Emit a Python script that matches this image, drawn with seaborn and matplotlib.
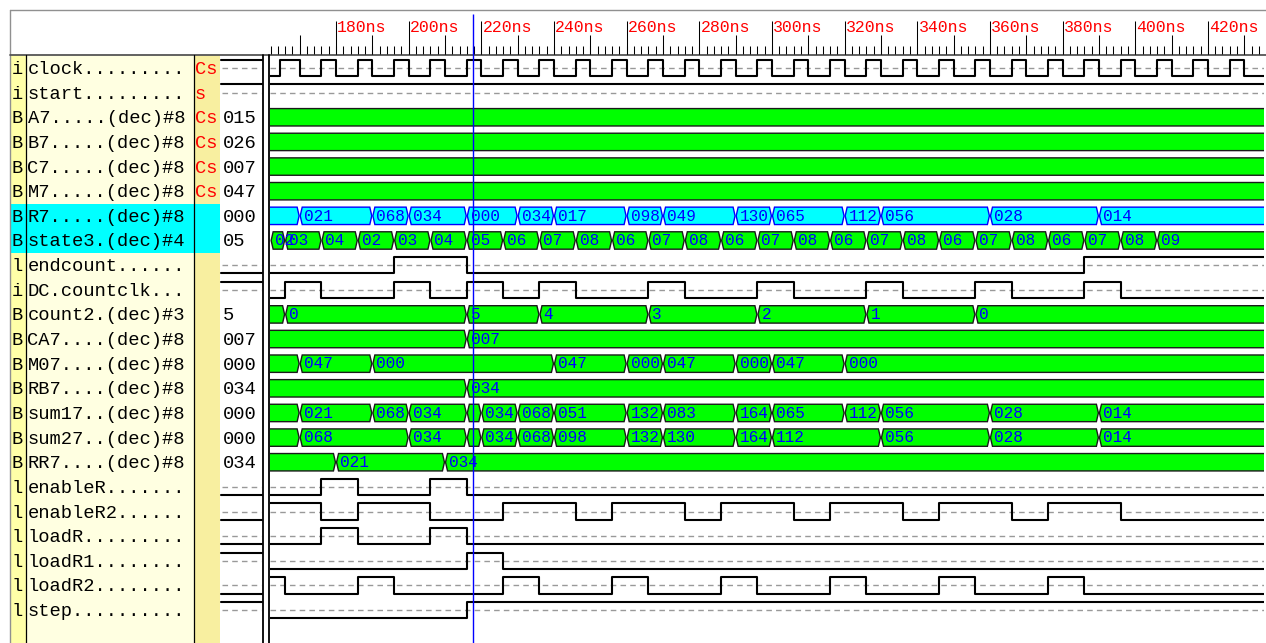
import numpy as np
import pandas as pd
import matplotlib
matplotlib.use("Agg")
import matplotlib.pyplot as plt
from matplotlib.patches import Polygon, Rectangle
import seaborn as sns

# ---------------- data ----------------
row_names = ["clock", "start", "A7", "B7", "C7", "M7", "R7", "state3", "endcount",
             "DC.countclk", "count2", "CA7", "M07", "RB7", "sum17", "sum27", "RR7",
             "enableR", "enableR2", "loadR", "loadR1", "loadR2", "step"]
row_types = ["i", "i", "B", "B", "B", "B", "B", "B", "l", "i", "B", "B", "B", "B",
             "B", "B", "B", "l", "l", "l", "l", "l", "l"]
row_suffix = ["", "", "(dec)#8", "(dec)#8", "(dec)#8", "(dec)#8", "(dec)#8", "(dec)#4",
              "", "", "(dec)#3", "(dec)#8", "(dec)#8", "(dec)#8", "(dec)#8", "(dec)#8",
              "(dec)#8", "", "", "", "", "", ""]
row_tags = ["Cs", "s", "Cs", "Cs", "Cs", "Cs", "", "", "", "", "", "", "", "", "", "",
            "", "", "", "", "", "", ""]
row_values = ["", "", "015", "026", "007", "047", "000", "05", "", "", "5", "007",
              "000", "034", "000", "000", "034", "", "", "", "", "", ""]
highlight_rows = ["R7", "state3"]

tick_times = [180, 200, 220, 240, 260, 280, 300, 320, 340, 360, 380, 400, 420]
tick_labels = ["180ns", "200ns", "220ns", "240ns", "260ns", "280ns", "300ns",
               "320ns", "340ns", "360ns", "380ns", "400ns", "420ns"]
cursor_time = 217.7

# digital signals: change times and levels
clock_t = [150, 164.5, 170, 176, 180, 186, 190, 196, 200, 206, 210, 216, 220, 226, 230,
           236, 240, 246, 250, 256, 260, 266, 270, 276, 280, 286, 290, 296, 300, 306,
           310, 316, 320, 326, 330, 336, 340, 346, 350, 356, 360, 366, 370, 376, 380,
           386, 390, 396, 400, 406, 410, 416, 420, 426, 430, 436]
clock_v = [0, 1, 0, 1, 0, 1, 0, 1, 0, 1, 0, 1, 0, 1, 0, 1, 0, 1, 0, 1, 0, 1, 0, 1, 0,
           1, 0, 1, 0, 1, 0, 1, 0, 1, 0, 1, 0, 1, 0, 1, 0, 1, 0, 1, 0, 1, 0, 1, 0, 1,
           0, 1, 0, 1, 0, 1]
start_t = [150]
start_v = [1]
endcount_t = [150, 196, 216, 386]
endcount_v = [0, 1, 0, 1]
countclk_t = [150, 166, 176, 196, 206, 216, 226, 236, 246, 266, 276, 296, 306, 326,
              336, 356, 366, 386, 396]
countclk_v = [0, 1, 0, 1, 0, 1, 0, 1, 0, 1, 0, 1, 0, 1, 0, 1, 0, 1, 0]
enableR_t = [150, 176, 186, 206, 216]
enableR_v = [0, 1, 0, 1, 0]
enableR2_t = [150, 176, 186, 206, 226, 246, 256, 276, 286, 306, 316, 336, 346, 366,
              376, 396]
enableR2_v = [1, 0, 1, 0, 1, 0, 1, 0, 1, 0, 1, 0, 1, 0, 1, 0]
loadR_t = [150, 176, 186, 206, 216]
loadR_v = [0, 1, 0, 1, 0]
loadR1_t = [150, 216, 226]
loadR1_v = [0, 1, 0]
loadR2_t = [150, 166, 186, 196, 226, 236, 256, 266, 286, 296, 316, 326, 346, 356,
            376, 386]
loadR2_v = [1, 0, 1, 0, 1, 0, 1, 0, 1, 0, 1, 0, 1, 0, 1, 0]
step_t = [150, 216]
step_v = [0, 1]

# bus signals: change times and displayed values
A7_t = [150]
A7_v = ["015"]
B7_t = [150]
B7_v = ["026"]
C7_t = [150]
C7_v = ["007"]
M7_t = [150]
M7_v = ["047"]
R7_t = [150, 170, 190, 200, 216, 230, 240, 260, 270, 290, 300, 320, 330, 360, 390]
R7_v = ["", "021", "068", "034", "000", "034", "017", "098", "049", "130", "065",
        "112", "056", "028", "014"]
state3_t = [162, 166, 176, 186, 196, 206, 216, 226, 236, 246, 256, 266, 276, 286,
            296, 306, 316, 326, 336, 346, 356, 366, 376, 386, 396, 406]
state3_v = ["02", "03", "04", "02", "03", "04", "05", "06", "07", "08", "06", "07",
            "08", "06", "07", "08", "06", "07", "08", "06", "07", "08", "06", "07",
            "08", "09"]
count2_t = [150, 166, 216, 236, 266, 296, 326, 356]
count2_v = ["", "0", "5", "4", "3", "2", "1", "0"]
CA7_t = [150, 216]
CA7_v = ["", "007"]
M07_t = [150, 170, 190, 240, 260, 270, 290, 300, 320]
M07_v = ["", "047", "000", "047", "000", "047", "000", "047", "000"]
RB7_t = [150, 216]
RB7_v = ["", "034"]
sum17_t = [150, 170, 190, 200, 216, 220, 230, 240, 260, 270, 290, 300, 320, 330,
           360, 390]
sum17_v = ["", "021", "068", "034", "", "034", "068", "051", "132", "083", "164",
           "065", "112", "056", "028", "014"]
sum27_t = [150, 170, 200, 216, 220, 230, 240, 260, 270, 290, 300, 330, 360, 390]
sum27_v = ["", "068", "034", "", "034", "068", "098", "132", "130", "164", "112",
           "056", "028", "014"]
RR7_t = [150, 180, 210]
RR7_v = ["", "021", "034"]

digital = {
    "clock": (clock_t, clock_v), "start": (start_t, start_v),
    "endcount": (endcount_t, endcount_v), "DC.countclk": (countclk_t, countclk_v),
    "enableR": (enableR_t, enableR_v), "enableR2": (enableR2_t, enableR2_v),
    "loadR": (loadR_t, loadR_v), "loadR1": (loadR1_t, loadR1_v),
    "loadR2": (loadR2_t, loadR2_v), "step": (step_t, step_v),
}
buses = {
    "A7": (A7_t, A7_v), "B7": (B7_t, B7_v), "C7": (C7_t, C7_v), "M7": (M7_t, M7_v),
    "R7": (R7_t, R7_v), "state3": (state3_t, state3_v), "count2": (count2_t, count2_v),
    "CA7": (CA7_t, CA7_v), "M07": (M07_t, M07_v), "RB7": (RB7_t, RB7_v),
    "sum17": (sum17_t, sum17_v), "sum27": (sum27_t, sum27_v), "RR7": (RR7_t, RR7_v),
}

# ---------------- style / layout ----------------
sns.set_theme(style="white")
plt.rcParams['font.family'] = ['Liberation Mono', 'DejaVu Sans Mono']

W, H = 1266, 643
ROW0, PITCH = 68.0, 24.64
WAVE_L, WAVE_R = 270, 1264
HDR_TOP, HDR_BOT = 10, 55
PX_NS, T_REF, X_REF = 3.633, 180.0, 336.0
t_lo = T_REF + (WAVE_L - X_REF) / PX_NS
t_hi = T_REF + (WAVE_R - X_REF) / PX_NS
HI, LO = -8.2 / PITCH, 8.1 / PITCH
BH = 8.7 / PITCH
NAME_FS, BUS_FS, RULER_FS = 13.5, 11.6, 11.9
DASH = (0, (4.0, 3.0))


def rect(x0, y0, x1, y1):
    return [x0 / W, 1 - y1 / H, (x1 - x0) / W, (y1 - y0) / H]


fig = plt.figure(figsize=(W / 100, H / 100), dpi=100)
fig.patch.set_facecolor("white")

# ---- left panel (pixel coordinates) ----
bg = fig.add_axes([0, 0, 1, 1])
bg.set_xlim(0, W)
bg.set_ylim(H, 0)
bg.axis("off")

bg.add_patch(Rectangle((10.5, HDR_BOT), 15, H - HDR_BOT, fc="#FFFFA8", ec="none"))
bg.add_patch(Rectangle((25.5, HDR_BOT), 168, H - HDR_BOT, fc="#FFFFE1", ec="none"))
bg.add_patch(Rectangle((193.5, HDR_BOT), 26, H - HDR_BOT, fc="#F8EFA0", ec="none"))
for name in highlight_rows:
    i = row_names.index(name)
    y0 = ROW0 + PITCH * (i - 0.5)
    bg.add_patch(Rectangle((10.5, y0), 209, PITCH, fc="#00FFFF", ec="none"))

bg.plot([10, W], [10, 10], color="#909090", lw=1.0)
bg.plot([10, 10], [10, H], color="#909090", lw=1.0)
bg.plot([10, W], [54.5, 54.5], color="#555555", lw=1.3)
for x, lw in [(25.5, 0.9), (193.5, 0.9), (262.8, 1.3), (268.8, 1.3)]:
    bg.plot([x, x], [HDR_BOT, H], color="black", lw=lw)

for i, name in enumerate(row_names):
    c = ROW0 + PITCH * i
    yb = c + 6
    bg.text(11.5, yb, row_types[i], fontsize=NAME_FS, va="baseline", color="black")
    if row_suffix[i]:
        label = name + "." * (14 - len(name) - len(row_suffix[i])) + row_suffix[i]
    else:
        label = name + "." * (14 - len(name))
    bg.text(27.5, yb, label, fontsize=NAME_FS, va="baseline", color="black")
    if row_tags[i]:
        bg.text(195, yb, row_tags[i], fontsize=NAME_FS, va="baseline", color="#FF0000")
    if name in buses:
        bg.text(222.5, yb, row_values[i], fontsize=NAME_FS, va="baseline", color="black")
    else:
        ts, vs = digital[name]
        cur = vs[max(k for k, t in enumerate(ts) if t <= cursor_time)]
        bg.plot([222, 261], [c, c], color="#999999", lw=1.0, ls=DASH)
        lvl = c + (HI if cur else LO) * PITCH
        bg.plot([221, 262], [lvl, lvl], color="black", lw=1.5)

# ---- ruler ----
ax_r = fig.add_axes(rect(WAVE_L, HDR_TOP, WAVE_R, HDR_BOT))
ax_r.set_facecolor("none")
ax_r.set_xlim(t_lo, t_hi)
ax_r.set_ylim(HDR_BOT, HDR_TOP)
ax_r.axis("off")
minor = np.arange(162, 436, 2)
medium = np.arange(170, 436, 20)
ax_r.vlines(minor, 45.7, 53.5, colors="black", lw=0.75)
ax_r.vlines(medium, 35, 53.5, colors="black", lw=0.75)
ax_r.vlines(tick_times, 21, 53.5, colors="black", lw=0.75)
for t, lab in zip(tick_times, tick_labels):
    ax_r.text(t + 0.35, 31.5, lab, color="#FF0000", fontsize=RULER_FS, va="baseline",
              ha="left", clip_on=True)
ax_r.vlines([cursor_time], 14, HDR_BOT, colors="#0000FF", lw=1.0)

# ---- waveforms ----
ax = fig.add_axes(rect(WAVE_L, HDR_BOT, WAVE_R, H))
ax.set_facecolor("none")

t_end = t_hi + 10
for i, name in enumerate(row_names):
    if name in digital:
        ts, vs = digital[name]
        ax.hlines(i, t_lo, t_hi, colors="#999999", lw=1.0, linestyles=DASH, zorder=1)
        df = pd.DataFrame({"t": list(ts) + [t_end],
                           "y": [i + (HI if v else LO) for v in list(vs) + [vs[-1]]]})
        sns.lineplot(data=df, x="t", y="y", drawstyle="steps-post", ax=ax,
                     color="black", linewidth=1.5, estimator=None, sort=False,
                     legend=False, zorder=3)
    else:
        ts, vs = buses[name]
        face = "#00FFFF" if name == "R7" else "#00FF00"
        edge = "#0000FF" if name == "R7" else "#1A1A1A"
        ends = list(ts[1:]) + [t_end]
        for a, b, lab in zip(ts, ends, vs):
            x0, x1, bev = a + 0.15, b - 0.15, 0.55
            pts = [(x0, i), (x0 + bev, i - BH), (x1 - bev, i - BH), (x1, i),
                   (x1 - bev, i + BH), (x0 + bev, i + BH)]
            ax.add_patch(Polygon(pts, closed=True, fc=face, ec=edge, lw=1.0, zorder=2))
        for a, lab in zip(ts, vs):
            if lab:
                ax.text(a + 1.1, i + 0.19, lab, color="#0000FF", fontsize=BUS_FS,
                        va="baseline", ha="left", clip_on=True, zorder=4)

ax.axvline(cursor_time, color="#0000FF", lw=1.0, zorder=6)
ax.set_xlim(t_lo, t_hi)
ax.set_ylim((H - ROW0) / PITCH, (HDR_BOT - ROW0) / PITCH)
ax.axis("off")

fig.savefig("out.png", dpi=100, facecolor="white")
